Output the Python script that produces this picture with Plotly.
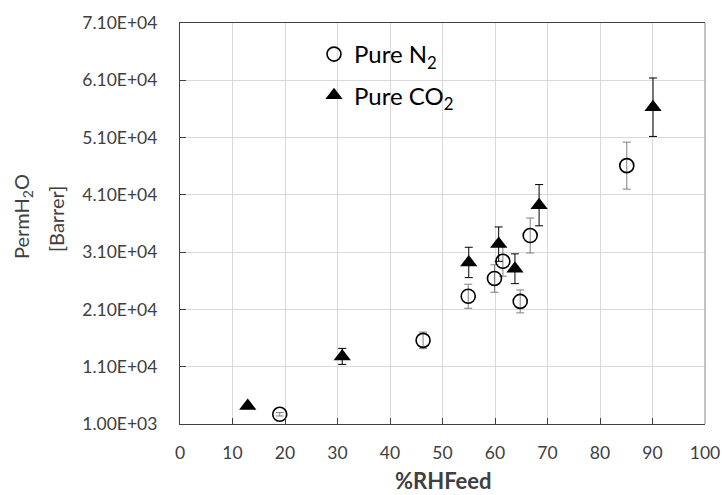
import plotly.graph_objects as go

# Pure N2 data
n2_x = [19.0, 46.3, 54.9, 59.9, 61.5, 64.8, 66.7, 85.1]
n2_y = [2700, 15600, 23300, 26400, 29400, 22400, 33900, 46100]
n2_err = [300, 1450, 2100, 2400, 2600, 2000, 3050, 4100]

# Pure CO2 data
co2_x = [12.9, 30.9, 55.0, 60.7, 63.8, 68.4, 90.1]
co2_y = [4150, 12800, 29200, 32400, 28100, 39200, 56300]
co2_err = [300, 1400, 2650, 3000, 2600, 3600, 5100]

x_ticks = [0, 10, 20, 30, 40, 50, 60, 70, 80, 90, 100]
y_ticks = [1000, 11000, 21000, 31000, 41000, 51000, 61000, 71000]
y_ticktext = ["1.00E+03", "1.10E+04", "2.10E+04", "3.10E+04",
              "4.10E+04", "5.10E+04", "6.10E+04", "7.10E+04"]

FONT = "Lato, 'Open Sans', sans-serif"

fig = go.Figure()
fig.add_trace(go.Scatter(
    x=n2_x, y=n2_y, mode="markers", name="Pure N<sub>2</sub>", legendgroup="a",
    marker=dict(symbol="circle-open", size=14, color="black", line=dict(width=1.6, color="black")),
    error_y=dict(type="data", array=n2_err, visible=True, color="#808080", thickness=1, width=4),
))
fig.add_trace(go.Scatter(
    x=co2_x, y=co2_y, mode="markers", name="Pure CO<sub>2</sub>", legendgroup="b",
    marker=dict(symbol="triangle-up", size=15, color="black"),
    error_y=dict(type="data", array=co2_err, visible=True, color="black", thickness=1, width=4),
))

axis_common = dict(
    showgrid=True, gridcolor="#d9d9d9", gridwidth=1,
    showline=True, linecolor="#404040", linewidth=1.2,
    ticks="inside", ticklen=6, tickcolor="#404040",
    tickfont=dict(family=FONT, size=17.5, color="#404040"),
    zeroline=False, automargin=False,
)

fig.update_xaxes(range=[0, 100], tickvals=x_ticks, mirror=True,
                 ticklabelstandoff=13, **axis_common)
fig.update_yaxes(range=[1000, 71000], tickvals=y_ticks, ticktext=y_ticktext,
                 mirror=False, ticklabelstandoff=18, **axis_common)

# lighter right border
fig.add_shape(type="line", xref="paper", yref="paper", x0=1, x1=1, y0=0, y1=1,
              line=dict(color="#9a9a9a", width=1.2))

fig.add_annotation(text="PermH<sub>2</sub>O", xref="paper", yref="paper",
                   x=(23 - 180) / 525, y=(424 - 217) / 401, showarrow=False,
                   xanchor="center", yanchor="middle", textangle=-90,
                   font=dict(family=FONT, size=20, color="#404040"))
fig.add_annotation(text="[Barrer]", xref="paper", yref="paper",
                   x=(56 - 180) / 525, y=(424 - 219) / 401, showarrow=False,
                   xanchor="center", yanchor="middle", textangle=-90,
                   font=dict(family=FONT, size=20, color="#404040"))
fig.add_annotation(text="<b>%RHFeed</b>", xref="paper", yref="paper",
                   x=(443 - 180) / 525, y=(424 - 481) / 401, showarrow=False,
                   xanchor="center", yanchor="middle",
                   font=dict(family=FONT, size=22, color="#404040"))

fig.update_layout(
    width=722, height=495,
    margin=dict(l=180, r=17, t=23, b=71),
    paper_bgcolor="white", plot_bgcolor="white",
    font=dict(family=FONT, color="black"),
    legend=dict(x=(314 - 180) / 525, y=(424 - 32) / 401, xanchor="left", yanchor="top",
                bgcolor="rgba(0,0,0,0)", font=dict(family=FONT, size=24, color="black"),
                itemsizing="trace", traceorder="grouped", tracegroupgap=7),
    showlegend=True,
)

fig.write_html("out.html")
